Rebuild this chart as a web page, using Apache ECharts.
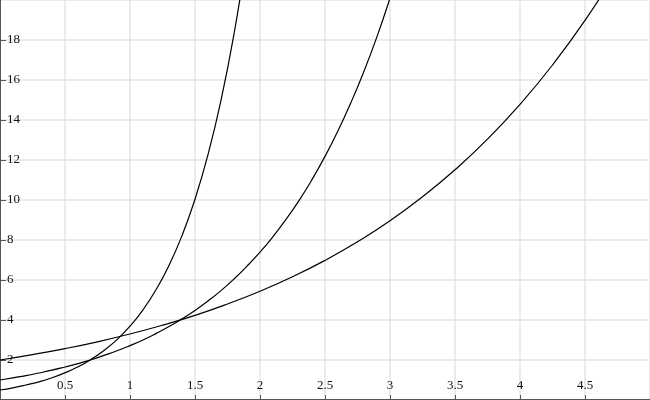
<!DOCTYPE html>
<html>
<head>
<meta charset="utf-8">
<script src="https://cdn.jsdelivr.net/npm/echarts@6/dist/echarts.min.js"></script>
<style>html,body{margin:0;padding:0;background:#fff}#c{width:650px;height:400px}</style>
</head>
<body>
<div id="c"></div>
<script>
// Curve readings (x, y) from the reference
const xSteep = [0,0.1,0.2,0.3,0.4,0.5,0.6,0.7,0.8,0.9,1.0,1.1,1.2,1.3,1.4,1.5,1.6,1.7,1.8,1.9];
const ySteep = [0.5,0.61,0.75,0.91,1.11,1.36,1.66,2.03,2.48,3.02,3.69,4.51,5.51,6.73,8.22,10.04,12.27,14.98,18.3,22.35];
const xMid = [0,0.1,0.2,0.3,0.4,0.5,0.6,0.7,0.8,0.9,1.0,1.1,1.2,1.3,1.4,1.5,1.6,1.7,1.8,1.9,2.0,2.1,2.2,2.3,2.4,2.5,2.6,2.7,2.8,2.9,3.0,3.1];
const yMid = [1,1.11,1.22,1.35,1.49,1.65,1.82,2.01,2.23,2.46,2.72,3.0,3.32,3.67,4.06,4.48,4.95,5.47,6.05,6.69,7.39,8.17,9.03,9.97,11.02,12.18,13.46,14.88,16.44,18.17,20.09,22.2];
const xFlat = [0,0.25,0.5,0.75,1.0,1.25,1.5,1.75,2.0,2.25,2.5,2.75,3.0,3.25,3.5,3.75,4.0,4.25,4.5,4.75];
const yFlat = [2,2.27,2.57,2.91,3.30,3.74,4.23,4.80,5.44,6.16,6.98,7.91,8.96,10.16,11.51,13.04,14.78,16.75,18.98,21.50];
const xRange = [0, 5];
const yRange = [0, 20];

const pair = (xs, ys) => xs.map((x, i) => [x, ys[i]]);
const chart = echarts.init(document.getElementById('c'));
const font = 'Liberation Serif';
const lineSeries = (xs, ys) => ({
  type: 'line', data: pair(xs, ys), showSymbol: false, smooth: 0.5,
  lineStyle: { color: '#000', width: 1.2 }, clip: true, silent: true
});
chart.setOption({
  animation: false,
  grid: { left: 0, right: 0, top: 0, bottom: 0, containLabel: false },
  xAxis: {
    type: 'value', min: xRange[0], max: xRange[1], interval: 0.5,
    axisLine: { show: true, onZero: false, lineStyle: { color: '#555', width: 2 } },
    axisTick: { show: true, inside: true, length: 5, lineStyle: { color: '#555', width: 1 } },
    axisLabel: { inside: true, margin: 8, showMinLabel: false, showMaxLabel: false,
      color: '#111', fontFamily: font, fontSize: 13 },
    splitLine: { show: true, lineStyle: { color: '#e4e4e4', width: 1.5 } }
  },
  yAxis: {
    type: 'value', min: yRange[0], max: yRange[1], interval: 2,
    axisLine: { show: true, onZero: false, lineStyle: { color: '#555', width: 2 } },
    axisTick: { show: true, inside: true, length: 6, lineStyle: { color: '#555', width: 1 } },
    axisLabel: { inside: true, margin: 7, showMinLabel: false, showMaxLabel: false,
      color: '#111', fontFamily: font, fontSize: 13 },
    splitLine: { show: true, lineStyle: { color: '#e4e4e4', width: 1.5 } }
  },
  series: [lineSeries(xSteep, ySteep), lineSeries(xMid, yMid), lineSeries(xFlat, yFlat)]
});
</script>
</body>
</html>
